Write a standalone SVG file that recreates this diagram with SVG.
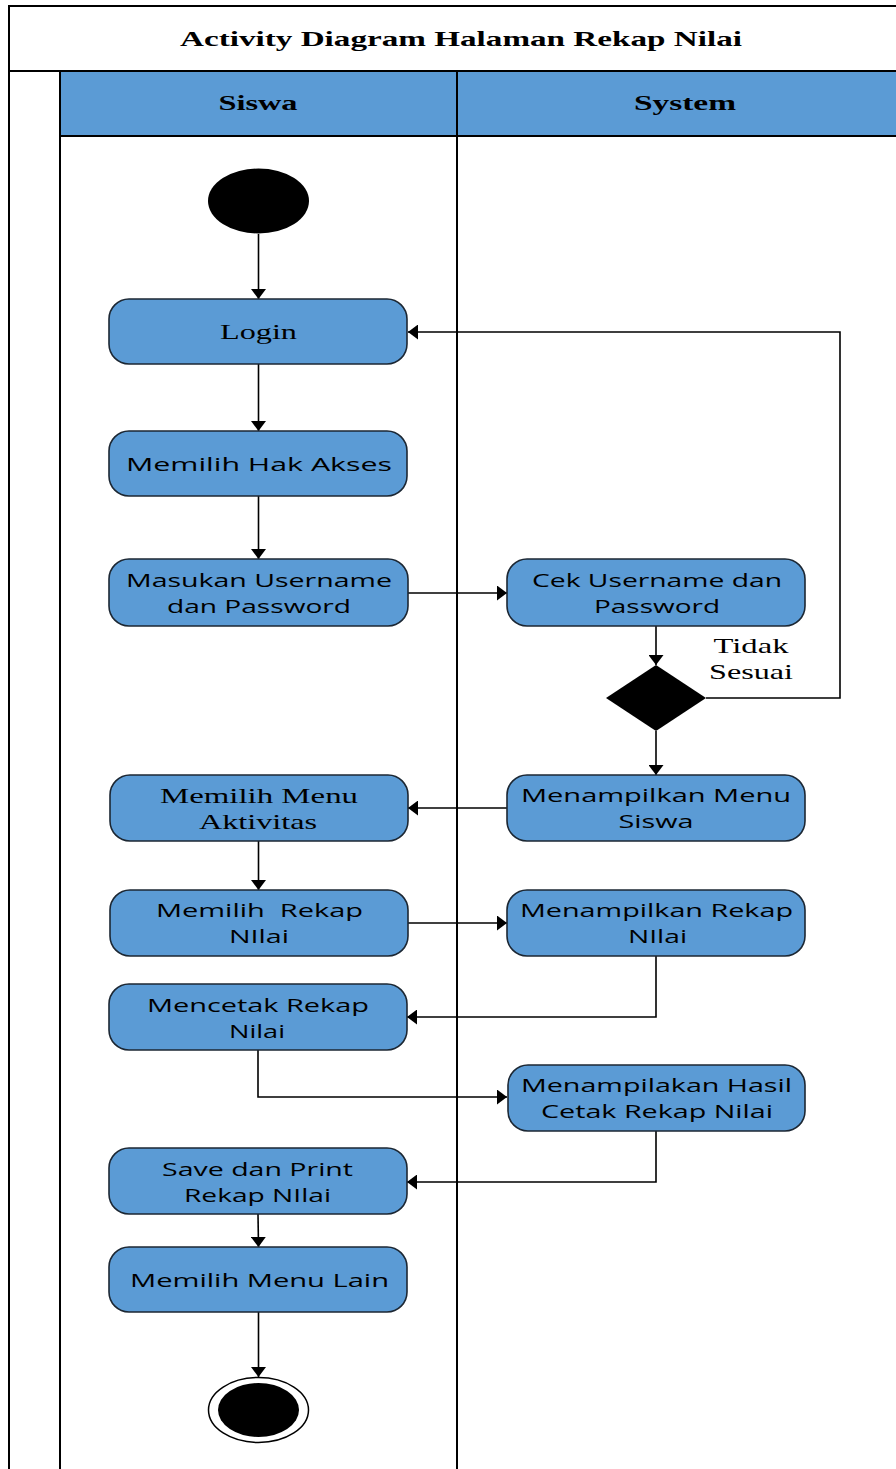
<svg xmlns="http://www.w3.org/2000/svg" width="896" height="1469" viewBox="0 0 896 1469">
<style>
.frame{fill:none;stroke:#000;stroke-width:2}
.act{fill:#5B9BD5;stroke:#1c2733;stroke-width:1.6}
.edge{fill:none;stroke:#000;stroke-width:1.6}
.sans{font-family:"Open Sans","DejaVu Sans",sans-serif;font-size:18px;fill:#000}
.serif{font-family:"Liberation Serif","Times New Roman",serif;font-size:22px;fill:#000}
.bold{font-family:"Liberation Serif","Times New Roman",serif;font-size:22px;font-weight:bold;fill:#000}
</style>
<defs>
<marker id="arr" markerWidth="15" markerHeight="15" refX="10" refY="7.5" orient="auto" markerUnits="userSpaceOnUse">
<path d="M0,0 L10,7.5 L0,15 Z" fill="#000"/>
</marker>
</defs>
<rect x="0" y="0" width="896" height="1469" fill="#fff"/>
<g id="frame">
<rect x="60" y="71" width="840" height="65" fill="#5B9BD5"/>
<path class="frame" d="M9,1469 V6 H896 M9,71 H896 M60,136 H896 M60,71 V1469 M457,71 V1469"/>
<text class="bold" x="461" y="46" text-anchor="middle" textLength="562" lengthAdjust="spacingAndGlyphs">Activity Diagram Halaman Rekap Nilai</text>
<text class="bold" x="258" y="110" text-anchor="middle" textLength="79" lengthAdjust="spacingAndGlyphs">Siswa</text>
<text class="bold" x="685" y="110" text-anchor="middle" textLength="102" lengthAdjust="spacingAndGlyphs">System</text>
</g>
<g id="connectors">
<path class="edge" d="M258.5,234 V299" marker-end="url(#arr)"/>
<path class="edge" d="M258.5,364 V431" marker-end="url(#arr)"/>
<path class="edge" d="M258.5,496 V559" marker-end="url(#arr)"/>
<path class="edge" d="M408,593 H507" marker-end="url(#arr)"/>
<path class="edge" d="M656,626 V665" marker-end="url(#arr)"/>
<path class="edge" d="M706,698 H840 V332 H408" marker-end="url(#arr)"/>
<path class="edge" d="M656,731 V775" marker-end="url(#arr)"/>
<path class="edge" d="M507,808 H408" marker-end="url(#arr)"/>
<path class="edge" d="M258.5,841 V890" marker-end="url(#arr)"/>
<path class="edge" d="M408,923 H507" marker-end="url(#arr)"/>
<path class="edge" d="M656,956 V1017 H407" marker-end="url(#arr)"/>
<path class="edge" d="M258,1050 V1097 H507" marker-end="url(#arr)"/>
<path class="edge" d="M656,1131 V1182 H407" marker-end="url(#arr)"/>
<path class="edge" d="M258,1214 L258.5,1247" marker-end="url(#arr)"/>
<path class="edge" d="M258.5,1312 V1377" marker-end="url(#arr)"/>
<text class="serif" x="751" y="653" text-anchor="middle" textLength="75" lengthAdjust="spacingAndGlyphs">Tidak</text>
<text class="serif" x="751" y="679" text-anchor="middle" textLength="84" lengthAdjust="spacingAndGlyphs">Sesuai</text>
</g>
<g id="start"><ellipse cx="258.5" cy="201" rx="50.5" ry="32.5" fill="#000"/></g>
<g id="login">
<rect class="act" x="109" y="299" width="298" height="65" rx="20"/>
<text class="serif" x="258.5" y="339" text-anchor="middle" textLength="77" lengthAdjust="spacingAndGlyphs">Login</text>
</g>
<g id="hakakses">
<rect class="act" x="109" y="431" width="298" height="65" rx="20"/>
<text class="sans" x="259" y="471" text-anchor="middle" textLength="266" lengthAdjust="spacingAndGlyphs">Memilih Hak Akses</text>
</g>
<g id="masukan">
<rect class="act" x="109" y="559" width="299" height="67" rx="20"/>
<text class="sans" x="259" y="587" text-anchor="middle" textLength="266" lengthAdjust="spacingAndGlyphs">Masukan Username</text>
<text class="sans" x="259" y="613" text-anchor="middle" textLength="184" lengthAdjust="spacingAndGlyphs">dan Password</text>
</g>
<g id="cek">
<rect class="act" x="507" y="559" width="298" height="67" rx="20"/>
<text class="sans" x="657" y="587" text-anchor="middle" textLength="250" lengthAdjust="spacingAndGlyphs">Cek Username dan</text>
<text class="sans" x="657" y="613" text-anchor="middle" textLength="126" lengthAdjust="spacingAndGlyphs">Password</text>
</g>
<g id="decision"><path d="M656,665 L706,698 L656,731 L606,698 Z" fill="#000"/></g>
<g id="menusiswa">
<rect class="act" x="507" y="775" width="298" height="66" rx="20"/>
<text class="sans" x="656" y="802" text-anchor="middle" textLength="270" lengthAdjust="spacingAndGlyphs">Menampilkan Menu</text>
<text class="sans" x="656" y="828" text-anchor="middle" textLength="75" lengthAdjust="spacingAndGlyphs">Siswa</text>
</g>
<g id="aktivitas">
<rect class="act" x="110" y="775" width="298" height="66" rx="20"/>
<text class="serif" x="259" y="803" text-anchor="middle" textLength="198" lengthAdjust="spacingAndGlyphs">Memilih Menu</text>
<text class="serif" x="258" y="829" text-anchor="middle" textLength="118" lengthAdjust="spacingAndGlyphs">Aktivitas</text>
</g>
<g id="pilihrekap">
<rect class="act" x="110" y="890" width="298" height="66" rx="20"/>
<text class="sans" x="259.5" y="917" text-anchor="middle" textLength="207" lengthAdjust="spacingAndGlyphs" xml:space="preserve">Memilih  Rekap</text>
<text class="sans" x="259" y="943" text-anchor="middle" textLength="60" lengthAdjust="spacingAndGlyphs">NIlai</text>
</g>
<g id="tampilrekap">
<rect class="act" x="507" y="890" width="298" height="66" rx="20"/>
<text class="sans" x="656.5" y="917" text-anchor="middle" textLength="273" lengthAdjust="spacingAndGlyphs">Menampilkan Rekap</text>
<text class="sans" x="657.5" y="943" text-anchor="middle" textLength="59" lengthAdjust="spacingAndGlyphs">NIlai</text>
</g>
<g id="mencetak">
<rect class="act" x="109" y="984" width="298" height="66" rx="20"/>
<text class="sans" x="258" y="1012" text-anchor="middle" textLength="222" lengthAdjust="spacingAndGlyphs">Mencetak Rekap</text>
<text class="sans" x="257" y="1038" text-anchor="middle" textLength="56" lengthAdjust="spacingAndGlyphs">Nilai</text>
</g>
<g id="hasil">
<rect class="act" x="508" y="1065" width="297" height="66" rx="20"/>
<text class="sans" x="656.5" y="1092" text-anchor="middle" textLength="271" lengthAdjust="spacingAndGlyphs">Menampilakan Hasil</text>
<text class="sans" x="657" y="1118" text-anchor="middle" textLength="232" lengthAdjust="spacingAndGlyphs">Cetak Rekap Nilai</text>
</g>
<g id="save">
<rect class="act" x="109" y="1148" width="298" height="66" rx="20"/>
<text class="sans" x="257.5" y="1176" text-anchor="middle" textLength="191" lengthAdjust="spacingAndGlyphs">Save dan Print</text>
<text class="sans" x="257.5" y="1202" text-anchor="middle" textLength="147" lengthAdjust="spacingAndGlyphs">Rekap NIlai</text>
</g>
<g id="menulain">
<rect class="act" x="109" y="1247" width="298" height="65" rx="20"/>
<text class="sans" x="259.5" y="1287" text-anchor="middle" textLength="259" lengthAdjust="spacingAndGlyphs">Memilih Menu Lain</text>
</g>
<g id="end">
<ellipse cx="258.5" cy="1410" rx="50" ry="32.5" fill="#fff" stroke="#000" stroke-width="1.5"/>
<ellipse cx="258.5" cy="1410" rx="40.5" ry="27" fill="#000"/>
</g>
</svg>
